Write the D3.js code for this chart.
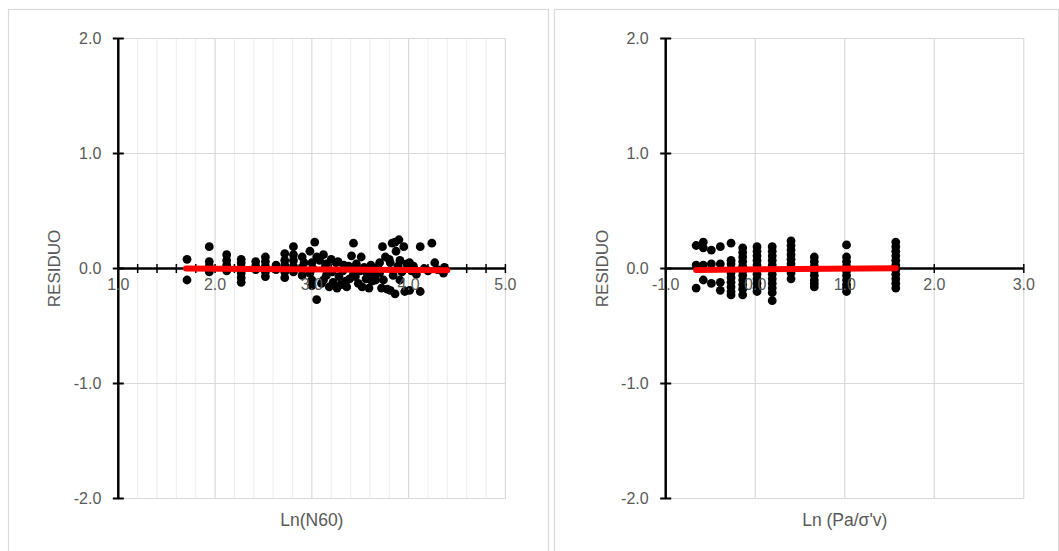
<!DOCTYPE html>
<html>
<head>
<meta charset="utf-8">
<script src="https://cdn.jsdelivr.net/npm/d3@7"></script>
<style>
  html, body { margin: 0; padding: 0; background: #ffffff; }
  svg { display: block; }
  text { font-family: "Liberation Sans", Arial, sans-serif; fill: #595959; }
</style>
</head>
<body>
<svg id="chart" width="1059" height="551"></svg>
<script>
// Residual scatter: Ln(N60)
const lnN60 = [
  1.71, 1.71,
  1.94, 1.94, 1.94, 1.94,
  2.12, 2.12, 2.12, 2.12,
  2.27, 2.27, 2.27, 2.27, 2.27, 2.27,
  2.42, 2.42, 2.42,
  2.52, 2.52, 2.52, 2.52, 2.52,
  2.63, 2.63,
  2.72, 2.72, 2.72, 2.72, 2.72,
  2.81, 2.81, 2.81, 2.81, 2.81,
  2.90, 2.90, 2.90, 2.92,
  2.98, 2.98, 3.00, 3.00, 3.00, 3.01, 3.03, 3.05, 3.05,
  3.08, 3.10, 3.12, 3.12, 3.14, 3.15, 3.15,
  3.18, 3.20, 3.21, 3.22, 3.25, 3.26, 3.27, 3.28,
  3.30, 3.32, 3.33, 3.35, 3.36, 3.38, 3.39,
  3.41, 3.43, 3.43, 3.45, 3.46, 3.48,
  3.50, 3.51, 3.52, 3.54, 3.56, 3.57, 3.59,
  3.61, 3.62, 3.64, 3.66, 3.68,
  3.70, 3.70, 3.72, 3.73, 3.74, 3.76, 3.78,
  3.80, 3.81, 3.81, 3.83, 3.84, 3.86, 3.86, 3.87,
  3.89, 3.90, 3.91, 3.91, 3.93, 3.95, 3.96,
  3.98, 4.01, 4.01, 4.03, 4.05,
  4.08, 4.12, 4.12, 4.16, 4.20, 4.24, 4.27, 4.30, 4.36, 4.37
];
const residuoN = [
  0.08, -0.10,
  0.19, 0.06, 0.02, -0.03,
  0.12, 0.07, 0.03, -0.02,
  0.08, 0.05, 0.01, -0.04, -0.08, -0.12,
  0.06, 0.02, -0.01,
  0.10, 0.06, 0.02, -0.03, -0.07,
  0.03, -0.01,
  0.13, 0.07, 0.03, -0.03, -0.08,
  0.19, 0.12, 0.07, 0.02, -0.03,
  0.10, 0.01, -0.06, 0.05,
  0.15, -0.04, 0.05, -0.10, -0.15, 0.00, 0.23, -0.27, 0.10,
  0.07, -0.13, 0.12, -0.10, 0.02, -0.06, 0.04,
  -0.16, 0.08, -0.03, -0.12, 0.05, -0.17, 0.06, -0.07,
  -0.14, -0.02, 0.03, -0.11, -0.16, 0.02, -0.09,
  0.11, 0.22, -0.05, -0.07, 0.04, -0.13,
  -0.02, 0.10, -0.16, 0.01, -0.09, -0.04, -0.17,
  0.03, -0.11, -0.05, -0.10, 0.01,
  0.05, -0.04, -0.17, 0.19, -0.10, 0.10, -0.18,
  0.08, -0.19, 0.05, 0.22, -0.06, 0.23, -0.22, 0.15,
  0.02, 0.25, 0.07, -0.10, -0.03, 0.19, -0.20,
  0.04, 0.05, -0.19, -0.02, 0.02,
  -0.05, 0.19, -0.20, 0.00, -0.02, 0.22, 0.05, -0.01, -0.04, 0.01
];
const trendN = [[1.70, 0.00], [4.40, -0.015]];

// Residual scatter: Ln(Pa/σ'v)
const lnPa = [
  -0.66, -0.66, -0.66,
  -0.58, -0.58, -0.58, -0.58,
  -0.49, -0.49, -0.49,
  -0.39, -0.39, -0.39, -0.39,
  -0.27, -0.27, -0.27, -0.27, -0.27, -0.27, -0.27, -0.27, -0.27, -0.27,
  -0.14, -0.14, -0.14, -0.14, -0.14, -0.14, -0.14, -0.14, -0.14, -0.14, -0.14,
  0.02, 0.02, 0.02, 0.02, 0.02, 0.02, 0.02, 0.02, 0.02, 0.02, 0.02,
  0.19, 0.19, 0.19, 0.19, 0.19, 0.19, 0.19, 0.19, 0.19, 0.19, 0.19, 0.19,
  0.40, 0.40, 0.40, 0.40, 0.40, 0.40, 0.40, 0.40, 0.40,
  0.66, 0.66, 0.66, 0.66, 0.66, 0.66, 0.66, 0.66,
  1.02, 1.02, 1.02, 1.02, 1.02, 1.02, 1.02, 1.02, 1.02, 1.02,
  1.57, 1.57, 1.57, 1.57, 1.57, 1.57, 1.57, 1.57, 1.57, 1.57, 1.57
];
const residuoP = [
  0.20, 0.03, -0.17,
  0.23, 0.18, 0.03, -0.10,
  0.16, 0.04, -0.13,
  0.19, 0.04, -0.12, -0.19,
  0.22, 0.07, 0.04, 0.00, -0.04, -0.08, -0.12, -0.16, -0.20, -0.23,
  0.18, 0.14, 0.10, 0.06, 0.02, -0.02, -0.06, -0.10, -0.14, -0.18, -0.23,
  0.19, 0.15, 0.11, 0.07, 0.03, -0.01, -0.05, -0.09, -0.13, -0.17, -0.20,
  0.19, 0.15, 0.11, 0.07, 0.03, -0.01, -0.05, -0.09, -0.13, -0.17, -0.21, -0.28,
  0.24, 0.20, 0.16, 0.12, 0.08, 0.04, 0.00, -0.04, -0.09,
  0.10, 0.06, 0.02, -0.02, -0.06, -0.10, -0.13, -0.16,
  0.205, 0.10, 0.06, 0.02, -0.02, -0.06, -0.10, -0.14, -0.17, -0.20,
  0.23, 0.19, 0.15, 0.11, 0.07, 0.03, -0.01, -0.05, -0.09, -0.13, -0.17
];
const trendP = [[-0.66, -0.012], [1.57, 0.002]];

const yTicks = [-2, -1, 0, 1, 2];
const xTicksN = [1, 2, 3, 4, 5];
const xTicksP = [-1, 0, 1, 2, 3];

const svg = d3.select("#chart");
// one decimal, plain hyphen for negatives
const fmt = v => d3.format(".1f")(v).replace("\u2212", "-");

function panel(cfg) {
  const g = svg.append("g");

  // chart frame
  g.append("rect")
    .attr("x", cfg.frame[0]).attr("y", cfg.frame[1])
    .attr("width", cfg.frame[2]).attr("height", cfg.frame[3])
    .attr("fill", "#ffffff").attr("stroke", "#d9d9d9").attr("stroke-width", 1.2);

  const x = d3.scaleLinear().domain(cfg.xDomain).range(cfg.xRange);
  const y = d3.scaleLinear().domain([-2, 2]).range([498.5, 38.5]);

  // minor vertical gridlines
  if (cfg.minor) {
    const minorTicks = d3.range(cfg.xDomain[0], cfg.xDomain[1] + 1e-9, cfg.minor)
      .filter(v => Math.abs(v - Math.round(v)) > 1e-6);
    g.append("g").selectAll("line").data(minorTicks).join("line")
      .attr("x1", d => x(d)).attr("x2", d => x(d))
      .attr("y1", y(2)).attr("y2", y(-2))
      .attr("stroke", "#efefef").attr("stroke-width", 1.2);
  }
  // major vertical gridlines
  g.append("g").selectAll("line").data(cfg.xTicks.slice(1)).join("line")
    .attr("x1", d => x(d)).attr("x2", d => x(d))
    .attr("y1", y(2)).attr("y2", y(-2))
    .attr("stroke", "#d9d9d9").attr("stroke-width", 1.2);
  // horizontal gridlines
  g.append("g").selectAll("line").data(yTicks.filter(v => v !== 0)).join("line")
    .attr("x1", x(cfg.xDomain[0])).attr("x2", x(cfg.xDomain[1]))
    .attr("y1", d => y(d)).attr("y2", d => y(d))
    .attr("stroke", "#d9d9d9").attr("stroke-width", 1.2);

  // x axis along residual = 0
  const xAxis = g.append("g");
  xAxis.append("line")
    .attr("x1", x(cfg.xDomain[0])).attr("x2", x(cfg.xDomain[1]))
    .attr("y1", y(0)).attr("y2", y(0))
    .attr("stroke", "#000").attr("stroke-width", 2.5);
  const xTickMarks = cfg.minor
    ? d3.range(cfg.xDomain[0], cfg.xDomain[1] + 1e-9, cfg.minor)
    : cfg.xTicks;
  xAxis.selectAll("line.tk").data(xTickMarks).join("line").attr("class", "tk")
    .attr("x1", d => x(d)).attr("x2", d => x(d))
    .attr("y1", y(0) - 4.5).attr("y2", y(0) + 4.5)
    .attr("stroke", "#000").attr("stroke-width", 1.5);

  // y axis
  const yAxis = g.append("g");
  yAxis.append("line")
    .attr("x1", x(cfg.xDomain[0])).attr("x2", x(cfg.xDomain[0]))
    .attr("y1", y(2)).attr("y2", y(-2))
    .attr("stroke", "#000").attr("stroke-width", 2.5);
  yAxis.selectAll("line.tk").data(yTicks).join("line").attr("class", "tk")
    .attr("x1", x(cfg.xDomain[0]) - 5.5).attr("x2", x(cfg.xDomain[0]) + 5.5)
    .attr("y1", d => y(d)).attr("y2", d => y(d))
    .attr("stroke", "#000").attr("stroke-width", 2);

  // residual points
  const pts = cfg.xs.map((v, i) => [v, cfg.ys[i]]);
  g.append("g").selectAll("circle").data(pts).join("circle")
    .attr("cx", d => x(d[0])).attr("cy", d => y(d[1]))
    .attr("r", 4.4).attr("fill", "#000");

  // linear trend
  g.append("path")
    .datum(cfg.trend)
    .attr("d", d3.line().x(d => x(d[0])).y(d => y(d[1])))
    .attr("fill", "none").attr("stroke", "#ff0000")
    .attr("stroke-width", 6).attr("stroke-linecap", "round");

  // tick labels
  g.append("g").selectAll("text").data(yTicks).join("text")
    .attr("x", x(cfg.xDomain[0]) - 17).attr("y", d => y(d) + 5.8)
    .attr("text-anchor", "end").attr("font-size", 16)
    .text(d => fmt(d));
  g.append("g").selectAll("text").data(cfg.xTicks).join("text")
    .attr("x", d => x(d)).attr("y", y(0) + 21)
    .attr("text-anchor", "middle").attr("font-size", 16)
    .text(d => fmt(d));

  // axis titles
  g.append("text")
    .attr("transform", `translate(${x(cfg.xDomain[0]) - 58},${y(0)}) rotate(-90)`)
    .attr("text-anchor", "middle").attr("font-size", 17)
    .text("RESIDUO");
  g.append("text")
    .attr("x", (cfg.xRange[0] + cfg.xRange[1]) / 2).attr("y", 526)
    .attr("text-anchor", "middle").attr("font-size", 17.5)
    .text(cfg.title);
}

panel({
  frame: [8.5, 9.5, 540, 560],
  xDomain: [1, 5], xRange: [118.3, 505.4], minor: 0.2,
  xTicks: xTicksN, xs: lnN60, ys: residuoN, trend: trendN,
  title: "Ln(N60)"
});
panel({
  frame: [554.5, 9.5, 504, 560],
  xDomain: [-1, 3], xRange: [665.7, 1023.8], minor: null,
  xTicks: xTicksP, xs: lnPa, ys: residuoP, trend: trendP,
  title: "Ln (Pa/σ'v)"
});
</script>
</body>
</html>
